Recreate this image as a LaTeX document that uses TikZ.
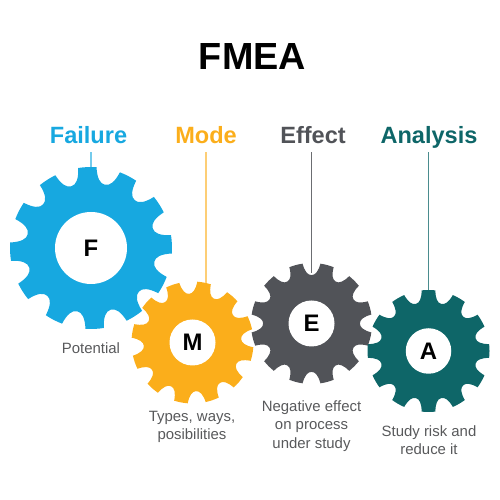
\documentclass[tikz,border=0pt]{standalone}
\usepackage{fontspec}
\setmainfont{Liberation Sans}
\definecolor{fblue}{HTML}{17A8E0}
\definecolor{morange}{HTML}{FBAE1B}
\definecolor{egray}{HTML}{515358}
\definecolor{ateal}{HTML}{0E6668}
\definecolor{bodygray}{HTML}{58595B}
\tikzset{
    wordlabel/.style={font=\fontsize{13.4pt}{16pt}\selectfont\bfseries, anchor=base, inner sep=0pt, text depth=4.5pt},
    notelabel/.style={font=\fontsize{8.5pt}{10.4pt}\selectfont, text=bodygray, align=center, inner sep=0pt},
    holedisc/.style={circle, fill=white, inner sep=0pt, font=\fontsize{13.6pt}{16pt}\selectfont\bfseries}
}
\begin{document}
\begin{tikzpicture}
    \useasboundingbox (0,0) rectangle (10,10);
    \foreach \name/\x/\y/\r/\a/\h/\col in {F/1.82/5.04/1.62/92.6/0.72/fblue, M/3.85/3.15/1.22/79/0.46/morange, E/6.23/3.53/1.21/75/0.46/egray, A/8.57/2.98/1.22/90/0.455/ateal} {
        \fill[\col, shift={(\x,\y)}] ({\a-6.5}:\r)
            \foreach \k in {0,...,11} {
                arc[start angle={\a+30*\k-6.5}, end angle={\a+30*\k+6.5}, radius=\r]
                .. controls ({\a+30*\k+7.5}:{0.87*\r}) and ({\a+30*\k+10.5}:{0.80*\r}) .. ({\a+30*\k+15}:{0.80*\r})
                .. controls ({\a+30*\k+19.5}:{0.80*\r}) and ({\a+30*\k+22.5}:{0.87*\r}) .. ({\a+30*\k+23.5}:\r)
            } -- cycle;
        \node[holedisc, minimum size=2*\h cm] (\name) at (\x,\y) {\name};
    }
    \node[font=\fontsize{21.5pt}{26pt}\selectfont\bfseries] (title) at (5.05,8.86) {FMEA};
    \node[wordlabel, text=fblue] (failure) at (1.77,7.12) {Failure};
    \node[wordlabel, text=morange] (mode) at (4.12,7.12) {Mode};
    \node[wordlabel, text=egray] (effect) at (6.26,7.12) {Effect};
    \node[wordlabel, text=ateal] (analysis) at (8.58,7.12) {Analysis};
    \coordinate (ftip) at (1.82,6.66);
    \coordinate (mtip) at (4.12,4.34);
    \coordinate (etip) at (6.22,4.54);
    \coordinate (atip) at (8.57,4.2);
    \draw[fblue!60, thick] (failure.south -| ftip) -- (ftip);
    \draw[morange!60, thick] (mode.south) -- (mtip);
    \draw[egray!85, thin] (effect.south -| etip) -- (etip);
    \draw[ateal!75, thin] (analysis.south -| atip) -- (atip);
    \node[notelabel] (potential) at (1.82,3.04) {Potential};
    \node[notelabel] (types) at (3.84,1.46) {Types, ways,\\posibilities};
    \node[notelabel] (negative) at (6.23,1.48) {Negative effect\\on process\\under study};
    \node[notelabel] (study) at (8.58,1.2) {Study risk and\\reduce it};
\end{tikzpicture}
\end{document}
